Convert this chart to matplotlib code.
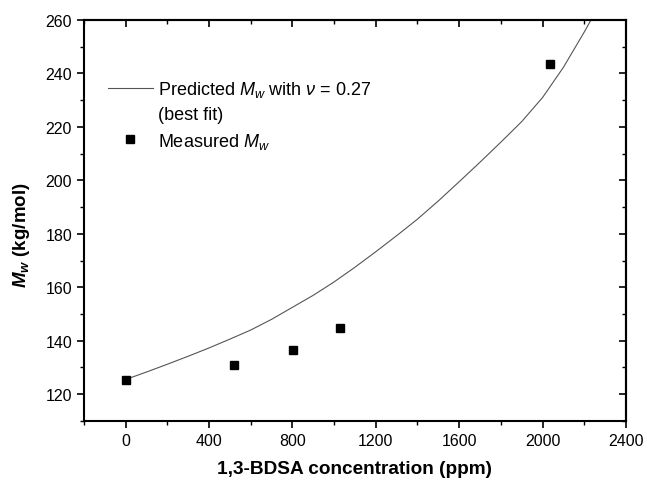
import matplotlib
matplotlib.use("Agg")
import matplotlib.pyplot as plt
from matplotlib.lines import Line2D

plt.rcParams['font.family'] = ['Liberation Sans', 'DejaVu Sans']
plt.rcParams['mathtext.fontset'] = 'custom'
plt.rcParams['mathtext.rm'] = 'Liberation Sans'
plt.rcParams['mathtext.it'] = 'Liberation Sans:italic'
plt.rcParams['mathtext.bf'] = 'Liberation Sans:bold'
plt.rcParams['mathtext.bfit'] = 'Liberation Sans:bold:italic'

# measured Mw vs 1,3-BDSA concentration
conc_measured = [0, 519, 805, 1029, 2037]
mw_measured = [125.3, 130.8, 136.5, 144.6, 243.5]

# predicted curve (nu = 0.27, best fit)
conc_pred = [0, 100, 200, 300, 400, 500, 600, 700, 800, 900, 1000, 1100, 1200,
             1300, 1400, 1500, 1600, 1700, 1800, 1900, 2000, 2100, 2200, 2232]
mw_pred = [125.5, 128.3, 131.2, 134.2, 137.3, 140.6, 144.0, 148.0, 152.5, 157.0, 162.0, 167.5, 173.3,
           179.3, 185.5, 192.3, 199.5, 206.8, 214.3, 222.0, 231.0, 242.3, 255.5, 260.0]

xticks = [0, 400, 800, 1200, 1600, 2000, 2400]
yticks = [120, 140, 160, 180, 200, 220, 240, 260]
xminor = range(-200, 2401, 200)
yminor = range(110, 261, 10)

fig = plt.figure(figsize=(6.45, 4.85), dpi=100)
ax = fig.add_axes([0.130, 0.130, 0.8405, 0.8267])

ax.plot(conc_pred, mw_pred, color='#555555', lw=0.8)
ax.plot(conc_measured, mw_measured, 's', color='black', markersize=6, linestyle='none')

ax.set_xlim(-100, 2400)
ax.set_ylim(110, 260)
ax.set_xticks(xticks)
ax.set_yticks(yticks)
ax.set_xticks(xminor, minor=True)
ax.set_yticks(yminor, minor=True)
ax.tick_params(which='major', direction='out', length=5, width=1.2, labelsize=11.5)
ax.tick_params(which='minor', direction='out', length=3, width=1.0)

# origin-style inward ticks on top and right
top = ax.secondary_xaxis('top')
top.set_xticks(xticks)
top.set_xticks(xminor, minor=True)
top.tick_params(which='major', direction='in', length=5, width=1.2, labeltop=False)
top.tick_params(which='minor', direction='in', length=3, width=1.0)
right = ax.secondary_yaxis('right')
right.set_yticks(yticks)
right.set_yticks(yminor, minor=True)
right.tick_params(which='major', direction='in', length=5, width=1.2, labelright=False)
right.tick_params(which='minor', direction='in', length=3, width=1.0)

for s in list(ax.spines.values()) + [top.spines['top'], right.spines['right']]:
    s.set_linewidth(1.5)

ax.set_xlabel('1,3-BDSA concentration (ppm)', fontsize=13.7, fontweight='bold', labelpad=9)
ax.set_ylabel(r'$\mathbfit{M}_{\mathbfit{w}}$ (kg/mol)', fontsize=13.5, fontweight='bold')
ax.yaxis.set_label_coords(-0.095, 0.466)

handles = [Line2D([], [], color='#555555', lw=0.8),
           Line2D([], [], color='none'),
           Line2D([], [], marker='s', color='black', markersize=6, linestyle='none')]
labels = [r'Predicted $M_w$ with $\nu$ = 0.27', '(best fit)', r'Measured $M_w$']
ax.legend(handles, labels, loc='upper left', bbox_to_anchor=(0.027, 0.875), frameon=False,
          fontsize=13, handlelength=2.5, handletextpad=0.3, labelspacing=0.4, borderpad=0)

fig.savefig('out.png', dpi=100)
